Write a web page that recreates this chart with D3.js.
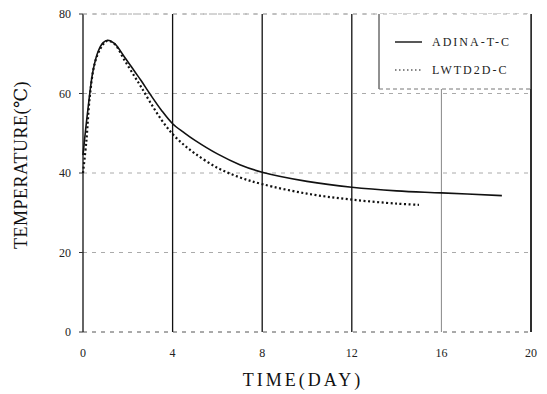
<!DOCTYPE html>
<html>
<head>
<meta charset="utf-8">
<script src="https://cdn.jsdelivr.net/npm/d3@7"></script>
<style>
  body { margin: 0; background: #fff; overflow: hidden; }
  svg { display: block; }
  text { font-family: "Liberation Serif", "DejaVu Serif", serif; }
</style>
</head>
<body>
<div id="chart"></div>
<script>
// Data
const xTicks = [0, 4, 8, 12, 16, 20];
const yTicks = [0, 20, 40, 60, 80];

const adinaTime = [0, 0.1, 0.22, 0.44, 0.67, 0.9, 1.1, 1.4, 1.85, 2.3, 2.6, 3, 3.5, 4, 4.5, 5, 6, 7, 8, 10, 12, 14, 16, 18.7];
const adinaTemp = [44.5, 50, 56, 65.5, 70.5, 72.8, 73.4, 72.6, 69.2, 65.6, 63.2, 59.8, 55.8, 52.4, 50.2, 48.2, 44.8, 42.1, 40.2, 37.9, 36.4, 35.5, 35, 34.3];

const lwtdTime = [0, 0.15, 0.3, 0.52, 0.8, 1.07, 1.4, 1.85, 2.3, 2.6, 3, 3.5, 4, 4.5, 5, 6, 7, 8, 10, 12, 14, 15];
const lwtdTemp = [40, 48, 59, 67.5, 71.5, 73.2, 72.5, 68.4, 64.3, 61.6, 57.8, 53.4, 49.8, 47.1, 44.9, 41.3, 38.9, 37.2, 34.8, 33.3, 32.3, 32];

const seriesNames = ['ADINA-T-C', 'LWTD2D-C'];

const width = 547;
const height = 394;
const margin = { top: 14, right: 16, bottom: 62, left: 83 };
const innerWidth = width - margin.left - margin.right;
const innerHeight = height - margin.top - margin.bottom;

const svg = d3.select('#chart')
  .append('svg')
  .attr('width', width)
  .attr('height', height);

const g = svg.append('g')
  .attr('transform', `translate(${margin.left}, ${margin.top})`);

const x = d3.scaleLinear().domain([0, 20]).range([0, innerWidth]);
const y = d3.scaleLinear().domain([0, 80]).range([innerHeight, 0]);

// Horizontal grid lines (dashed, grey)
g.selectAll('.hgrid')
  .data(yTicks)
  .enter()
  .append('line')
  .attr('x1', 0)
  .attr('x2', innerWidth)
  .attr('y1', d => y(d))
  .attr('y2', d => y(d))
  .attr('stroke', d => d === 0 ? '#555' : '#aaa')
  .attr('stroke-width', 1)
  .attr('stroke-dasharray', '4,5');

// Vertical grid lines
g.selectAll('.vgrid')
  .data(xTicks)
  .enter()
  .append('line')
  .attr('x1', d => x(d))
  .attr('x2', d => x(d))
  .attr('y1', 0)
  .attr('y2', innerHeight)
  .attr('stroke', d => d === 16 ? '#888' : '#111')
  .attr('stroke-width', d => d === 16 ? 1 : 1.3);

// Left ticks
g.selectAll('.ytick')
  .data(yTicks)
  .enter()
  .append('line')
  .attr('x1', -4)
  .attr('x2', 0)
  .attr('y1', d => y(d))
  .attr('y2', d => y(d))
  .attr('stroke', '#333');

// Tick labels
g.selectAll('.ylabel')
  .data(yTicks)
  .enter()
  .append('text')
  .attr('x', -12)
  .attr('y', d => y(d))
  .attr('dy', '0.35em')
  .attr('text-anchor', 'end')
  .style('font-size', '12px')
  .style('fill', '#222')
  .text(d => d);

g.selectAll('.xlabel')
  .data(xTicks)
  .enter()
  .append('text')
  .attr('x', d => x(d))
  .attr('y', innerHeight + 25)
  .attr('text-anchor', 'middle')
  .style('font-size', '12px')
  .style('fill', '#222')
  .text(d => d);

// Axis titles
svg.append('text')
  .attr('x', margin.left + innerWidth / 2 - 4)
  .attr('y', 386)
  .attr('text-anchor', 'middle')
  .style('font-size', '18px')
  .style('letter-spacing', '3px')
  .style('fill', '#111')
  .text('TIME(DAY)');

svg.append('text')
  .attr('transform', `translate(27, 165) rotate(-90)`)
  .attr('text-anchor', 'middle')
  .style('font-size', '18px')
  .style('letter-spacing', '0.5px')
  .style('fill', '#111')
  .text('TEMPERATURE(℃)');

// Curves
const line = d3.line()
  .x(d => x(d[0]))
  .y(d => y(d[1]))
  .curve(d3.curveCatmullRom.alpha(0.5));

const adina = adinaTime.map((t, i) => [t, adinaTemp[i]]);
const lwtd = lwtdTime.map((t, i) => [t, lwtdTemp[i]]);

g.append('path')
  .datum(lwtd)
  .attr('d', line)
  .attr('fill', 'none')
  .attr('stroke', '#111')
  .attr('stroke-width', 2.2)
  .attr('stroke-dasharray', '2,2.5');

g.append('path')
  .datum(adina)
  .attr('d', line)
  .attr('fill', 'none')
  .attr('stroke', '#111')
  .attr('stroke-width', 1.6);

// Legend box
const legendLeft = 379 - margin.left;
const legendBottom = 89 - margin.top;
g.append('rect')
  .attr('x', legendLeft)
  .attr('y', 0)
  .attr('width', innerWidth - legendLeft)
  .attr('height', legendBottom)
  .attr('fill', '#fff');
g.append('line')
  .attr('x1', legendLeft).attr('x2', legendLeft)
  .attr('y1', 0).attr('y2', legendBottom)
  .attr('stroke', '#222').attr('stroke-width', 1);
g.append('line')
  .attr('x1', legendLeft).attr('x2', innerWidth)
  .attr('y1', legendBottom).attr('y2', legendBottom)
  .attr('stroke', '#777').attr('stroke-dasharray', '4,3');
g.append('line')
  .attr('x1', innerWidth).attr('x2', innerWidth)
  .attr('y1', 0).attr('y2', innerHeight)
  .attr('stroke', '#111').attr('stroke-width', 1.3);
g.append('line')
  .attr('x1', 0).attr('x2', innerWidth)
  .attr('y1', 0).attr('y2', 0)
  .attr('stroke', '#aaa').attr('stroke-dasharray', '4,6');

const legend = g.selectAll('.legend')
  .data(seriesNames)
  .enter()
  .append('g')
  .attr('class', 'legend')
  .attr('transform', (d, i) => `translate(${395 - margin.left}, ${42 - margin.top + i * 28})`);

legend.append('line')
  .attr('x1', 0)
  .attr('x2', 27)
  .attr('stroke', '#111')
  .attr('stroke-width', (d, i) => i === 0 ? 1.4 : 1.2)
  .attr('stroke-dasharray', (d, i) => i === 0 ? null : '1.5,2.5');

legend.append('text')
  .attr('x', 37)
  .attr('dy', '0.35em')
  .style('font-size', '12px')
  .style('letter-spacing', '2px')
  .style('fill', '#222')
  .text(d => d);
</script>
</body>
</html>
